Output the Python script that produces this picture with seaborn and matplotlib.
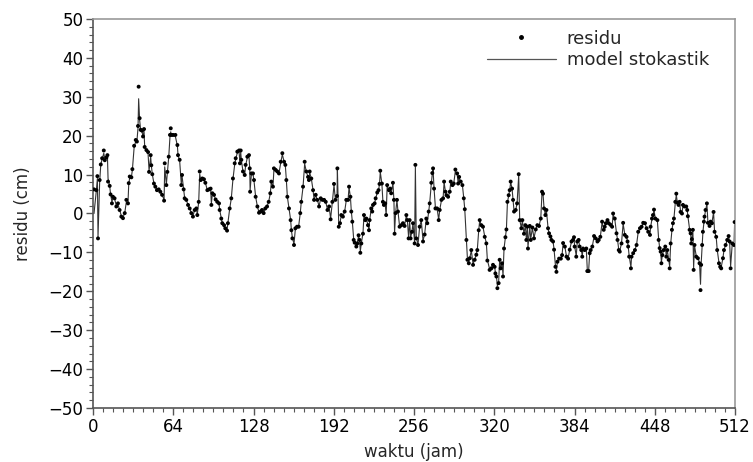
import matplotlib
matplotlib.use("Agg")
import matplotlib.pyplot as plt
from matplotlib.lines import Line2D
import seaborn as sns
import pandas as pd

# waktu (jam) at which residu was read
waktu = [
    0.8, 2.7, 3.5, 4.0, 5.3, 6.2, 7.3, 8.6, 9.4, 10.7, 11.5, 12.0, 13.3, 14.0, 15.1, 15.9, 17.2, 18.6, 19.9, 21.2,
    22.6, 23.9, 25.3, 26.6, 27.9, 28.5, 29.3, 30.6, 31.4, 32.8, 34.1, 35.0, 35.9, 36.4, 37.2, 38.0, 39.1, 39.9, 40.7, 41.2,
    42.6, 43.9, 44.7, 46.0, 46.5, 47.3, 48.6, 49.7, 51.0, 52.4, 53.7, 55.1, 56.7, 57.2, 58.5, 59.3, 60.4, 61.4, 62.0,
    62.5, 63.8, 65.7, 67.3, 67.8, 69.1, 70.4, 71.0, 72.3, 73.1, 74.4, 75.8, 77.1, 78.4, 79.7, 81.1, 82.4, 83.2, 84.3, 85.1,
    85.9, 87.2, 88.5, 89.6, 91.2, 92.5, 93.8, 94.4, 95.2, 96.5, 97.8, 99.1, 100.5, 101.0, 102.3, 103.1, 104.5, 105.5, 106.9, 107.6,
    109.0, 110.3, 111.6, 113.0, 113.8, 115.1, 116.5, 117.2, 117.8, 118.3, 119.6, 121.0, 121.7, 123.1, 124.4,
    125.0, 125.3, 126.3, 127.6, 128.4, 129.7, 131.1, 132.4, 133.7, 134.8, 136.1, 137.4, 138.8, 140.1, 141.4, 142.2, 143.5, 144.3, 145.7, 147.0,
    148.3, 149.7, 151.0, 152.4, 153.4, 154.2, 155.0, 156.3, 157.6, 158.2, 159.0, 160.3, 161.4, 162.7, 164.0, 165.3, 166.1, 167.5, 168.8, 170.1,
    171.5, 172.2, 172.8, 174.1, 175.5, 176.3, 177.6, 178.9, 180.3, 181.6, 183.0, 184.3, 185.6, 187.0, 188.3,
    189.5, 190.9, 192.2, 193.3, 194.6, 194.9, 196.0, 197.0, 198.0, 199.3, 200.7, 202.0, 203.4, 204.2, 205.3, 206.0, 206.8, 207.9, 208.7, 210.0,
    210.8, 211.8, 212.6, 213.2, 214.0, 215.3, 216.1, 217.2, 218.0, 219.3, 220.1, 220.6, 221.9, 222.7, 223.3, 224.6, 225.4, 226.7, 227.7, 228.5,
    229.1, 230.4, 231.2, 232.0, 233.0, 233.8, 234.6, 236.0, 237.0, 237.8, 239.2, 240.0, 240.5, 241.3, 242.4, 243.2, 244.5, 245.9, 247.2, 248.5,
    249.9, 250.7, 251.7,
    252.5, 253.3, 254.4, 255.2, 256.5, 257.1, 257.8, 259.2, 260.5, 261.8, 263.2, 264.5, 265.8, 266.6, 267.7, 268.5, 269.8, 270.6, 271.2, 272.0,
    273.1, 274.4, 275.7, 276.5, 277.9, 279.2, 280.0, 281.1, 281.9, 283.2, 284.5, 285.3, 286.7, 287.7, 289.0, 290.4, 291.2, 292.0, 293.3, 294.6,
    295.7, 296.5, 297.8, 298.6, 299.7, 300.5, 301.7, 303.1, 304.4, 305.7, 306.5, 307.6, 308.4, 309.7, 311.0, 312.4, 313.7, 314.5,
    316.3, 317.7, 319.0, 320.3, 320.9, 321.7, 322.5, 323.5, 324.3, 325.1, 326.2, 327.0, 327.8, 328.9, 329.7, 330.5, 331.5, 332.3, 333.1, 334.2,
    335.0, 335.8, 337.1, 338.2, 339.5, 340.3, 341.6, 342.4, 343.7, 344.8, 345.6, 346.4, 346.9, 348.3, 349.1, 350.4, 351.7, 353.1, 354.4, 355.7,
    357.1, 358.1, 358.9, 359.7, 360.8, 361.6, 362.9, 363.7, 364.8, 365.6, 366.9, 367.7, 368.8, 369.6, 370.4, 371.7, 373.1, 374.1, 374.9, 376.3,
    377.6, 378.9, 380.2, 381.6,
    382.8, 383.6, 384.1, 385.4, 386.2, 387.3, 388.1, 389.4, 390.2, 390.8, 392.1, 393.4, 394.2, 395.3, 396.1, 396.9, 398.2, 399.6, 400.9, 402.3,
    403.3, 404.6, 406.0, 407.3, 408.1, 408.9, 410.3, 411.3, 412.7, 414.0, 414.8, 416.1, 417.5, 418.3, 419.3, 420.1, 421.5, 422.8, 424.1, 425.5,
    426.3, 426.8, 427.6, 429.0, 429.5, 430.8, 432.2, 433.5, 434.8, 436.2, 437.5, 438.8, 440.2, 441.5, 442.8, 444.2,
    444.7, 445.8, 446.6, 447.4, 448.5, 450.1, 451.1, 451.9, 452.7, 453.3, 454.1, 455.1, 456.4, 457.2, 458.0, 459.1, 459.9, 460.7, 461.7, 462.5,
    463.3, 464.4, 465.2, 466.0, 467.0, 467.8, 468.6, 469.7, 470.5, 471.8, 473.1, 473.9, 474.4, 475.8, 476.6, 477.1, 477.6, 478.4, 479.0, 479.7,
    481.1, 482.4, 483.7, 484.5, 485.0, 485.8, 486.4, 487.2, 487.7, 488.5, 489.6, 490.4, 491.7, 492.5, 493.6, 494.9, 495.7, 497.0, 497.8, 499.2,
    500.2, 501.0, 502.4, 503.2, 504.5, 505.8, 506.9, 507.7, 508.5, 509.8, 511.2, 511.7,
]

# residu (cm) observed
residu = [
    6.2, 6.0, 9.6, -6.4, 8.6, 12.6, 14.2, 16.2, 13.7, 14.4, 15.0, 8.2, 7.1, 4.9, 2.6, 4.3, 3.9, 1.8, 2.6, 0.9,
    -0.8, -1.2, 0.1, 3.5, 2.6, 7.8, 9.5, 9.3, 11.4, 17.4, 18.9, 18.5, 22.5, 32.6, 24.5, 21.5, 21.3, 19.8, 21.7, 17.1,
    16.3, 15.8, 10.7, 15.0, 12.4, 10.1, 7.7, 6.9, 6.0, 6.2, 5.6, 4.8, 3.3, 12.9, 7.3, 10.7, 14.6, 20.2, 21.9,
    20.2, 20.2, 20.2, 17.6, 15.0, 13.8, 7.3, 9.9, 6.2, 3.9, 3.5, 2.2, 1.3, 0.1, -0.8, 0.9, 1.3, -0.4, 3.0, 10.8,
    8.6, 9.0, 8.8, 7.9, 6.0, 6.2, 6.4, 2.2, 5.2, 4.8, 3.6, 3.0, 2.6, 0.9, -1.3, -2.5, -3.0, -3.8, -4.4, -2.5,
    1.3, 3.9, 9.0, 12.9, 14.2, 15.9, 16.2, 12.9, 16.2, 13.8, 10.8, 9.9, 12.5, 14.6, 15.0,
    11.6, 5.6, 10.3, 10.3, 8.6, 4.3, 1.8, 0.2, 0.5, 0.9, 0.1, 1.3, 1.8, 3.0, 5.2, 8.2, 6.9, 11.6, 11.2, 10.8,
    10.3, 13.3, 15.5, 13.3, 12.5, 8.6, 4.3, 1.3, -1.7, -4.3, -6.4, -8.1, -3.8, -3.4, -3.4, 0.1, 3.0, 6.9, 13.3, 10.8,
    9.4, 8.6, 10.8, 9.0, 6.0, 3.5, 4.8, 3.5, 1.8, 3.9, 3.5, 3.5, 3.0, 0.9, 1.8,
    -1.5, 3.0, 7.6, 3.5, 4.5, 11.6, -3.4, -2.5, -0.4, -0.8, 0.5, 3.5, 3.5, 6.9, 4.3, 0.5, -2.1, -6.8, -7.5, -8.5,
    -7.7, -5.6, -6.8, -10.1, -7.7, -5.2, -0.4, -1.7, -1.3, -3.0, -4.3, -1.7, 1.3, 0.5, 2.2, 2.6, 3.9, 5.4, 6.0, 7.6,
    11.0, 7.7, 3.0, 2.2, 2.6, -0.4, 7.3, 6.0, 6.4, 5.2, 7.9, 3.5, -5.2, 0.1, 3.5, 0.5, -3.4, -3.0, -2.5, -3.2,
    -0.4, -1.7, -6.4,
    -1.7, -6.4, -4.7, -2.5, -7.7, 12.5, -6.4, -8.1, -3.4, -1.7, -7.2, -5.4, -1.3, -2.5, 0.5, 2.6, 7.9, 10.4, 11.6, 6.4,
    1.3, 1.3, -1.7, 0.9, 3.5, 3.9, 8.2, 5.6, 4.7, 4.3, 5.6, 8.2, 7.3, 7.7, 11.3, 10.3, 7.7, 9.4, 8.2, 7.3,
    3.9, 1.1, -6.8, -11.9, -12.8, -11.5, -9.4, -13.2, -11.9, -10.6, -9.4, -4.3, -1.7, -3.0, -3.4, -6.0, -7.7, -12.1,
    -14.5, -14.1, -13.2, -13.7, -15.4, -16.2, -19.2, -17.9, -11.9, -14.1, -12.8, -16.2, -9.0, -6.1, -4.1, 3.0, 4.7, 6.0, 8.2, 6.4,
    3.5, 0.5, 0.9, 2.6, 10.1, -1.7, -3.8, -1.7, -5.2, -3.0, -6.8, -3.4, -9.0, -3.2, -6.8, -3.6, -6.4, -4.1, -3.0, -3.2,
    -1.3, 5.6, 5.1, 1.3, -0.4, 0.9, -3.8, -5.1, -5.9, -6.8, -7.2, -9.3, -13.7, -15.0, -12.4, -11.6, -11.6, -10.7, -7.6, -8.5,
    -11.1, -11.6, -9.3, -7.2,
    -6.8, -6.1, -8.5, -11.1, -7.2, -6.8, -8.5, -9.4, -11.1, -9.0, -9.4, -9.0, -14.8, -14.8, -10.2, -9.4, -8.5, -5.8, -6.4, -7.2,
    -6.8, -6.0, -2.1, -4.2, -3.4, -2.5, -1.7, -2.5, -2.9, -3.4, 0.0, -1.3, -5.1, -6.8, -9.4, -9.8, -7.7, -2.4, -5.5, -6.0,
    -7.2, -8.5, -11.1, -14.1, -11.1, -10.2, -9.4, -8.1, -4.7, -3.8, -3.4, -2.4, -2.5, -3.8, -4.7, -5.5,
    -3.4, -1.3, -0.4, 1.0, -1.3, -1.7, -6.8, -8.9, -9.8, -12.8, -10.7, -9.4, -8.5, -11.1, -9.4, -11.9, -14.1, -7.7, -4.2, -2.5,
    -1.3, 3.0, 5.1, 2.8, 2.2, 3.0, 0.4, 0.0, 2.2, 1.8, 1.8, 0.9, -0.7, -4.2, -5.1, -7.7, -6.6, -4.2, -14.5, -8.1,
    -11.1, -11.5, -12.8, -19.7, -13.2, -8.1, -4.7, -2.1, -0.8, 0.9, 2.6, -2.4, -3.2, -2.1, -2.5, 0.4, -4.7, -6.0, -9.4, -12.8,
    -13.7, -14.1, -11.5, -9.4, -8.1, -6.8, -5.8, -7.2, -14.1, -7.7, -8.1, -2.2,
]

# model stokastik (cm) at the same times
model = [
    0.0, 6.0, 9.0, -6.0, 8.0, 12.6, 14.0, 15.5, 14.0, 14.4, 14.8, 9.0, 7.1, 5.0, 3.0, 4.0, 3.8, 2.0, 2.4, 1.0,
    -0.6, -1.0, 0.1, 3.0, 2.8, 7.5, 9.3, 9.3, 11.2, 17.0, 18.6, 18.5, 22.0, 29.5, 24.0, 21.5, 21.0, 19.8, 21.2, 17.3,
    16.3, 15.5, 11.0, 14.6, 12.4, 10.1, 7.7, 6.9, 6.0, 6.1, 5.6, 4.8, 3.5, 12.0, 7.5, 10.5, 14.5, 19.8, 21.0,
    20.0, 20.0, 19.8, 17.4, 15.0, 13.6, 7.6, 9.7, 6.2, 4.0, 3.5, 2.2, 1.3, 0.2, -0.6, 0.9, 1.2, -0.2, 3.0, 10.2,
    8.6, 8.9, 8.7, 7.9, 6.0, 6.2, 6.3, 2.6, 5.0, 4.8, 3.6, 3.0, 2.5, 1.0, -1.2, -2.4, -3.0, -3.7, -4.2, -2.4,
    1.2, 3.9, 8.8, 12.6, 14.0, 15.6, 15.8, 13.0, 15.8, 13.8, 10.8, 10.0, 12.3, 14.4, 14.8,
    11.5, 6.0, 10.0, 10.1, 8.4, 4.3, 1.8, 0.3, 0.5, 0.9, 0.2, 1.2, 1.8, 3.0, 5.2, 8.0, 6.9, 11.3, 11.0, 10.7,
    10.3, 13.0, 15.2, 13.3, 12.3, 8.6, 4.3, 1.3, -1.6, -4.2, -6.2, -7.8, -3.9, -3.4, -3.3, 0.1, 3.0, 6.8, 12.8, 10.8,
    9.4, 8.8, 10.5, 9.0, 6.0, 3.6, 4.7, 3.5, 1.9, 3.8, 3.5, 3.4, 3.0, 1.0, 1.7,
    -1.3, 3.0, 7.3, 3.6, 4.5, 11.3, -3.2, -2.4, -0.4, -0.7, 0.5, 3.4, 3.5, 6.7, 4.2, 0.6, -2.0, -6.6, -7.4, -8.3,
    -7.6, -5.7, -6.9, -9.7, -7.6, -5.1, -0.5, -1.6, -1.3, -3.0, -4.1, -1.8, 1.2, 0.6, 2.1, 2.6, 3.9, 5.3, 6.0, 7.5,
    10.7, 7.6, 3.1, 2.3, 2.5, -0.3, 7.0, 6.0, 6.3, 5.3, 7.7, 3.4, -5.0, 0.1, 3.4, 0.6, -3.3, -3.0, -2.5, -3.1,
    -0.5, -1.7, -6.2,
    -1.8, -6.2, -4.6, -2.5, -7.5, 12.0, -6.2, -7.9, -3.4, -1.8, -7.0, -5.3, -1.4, -2.4, 0.5, 2.6, 7.7, 10.2, 11.3, 6.4,
    1.4, 1.3, -1.6, 0.9, 3.4, 3.9, 8.0, 5.6, 4.7, 4.3, 5.5, 8.0, 7.3, 7.7, 11.0, 10.2, 7.8, 9.2, 8.2, 7.3,
    3.9, 1.0, -6.6, -11.6, -12.5, -11.4, -9.5, -13.0, -11.8, -10.5, -9.3, -4.4, -1.8, -3.0, -3.4, -5.9, -7.6, -11.9,
    -14.3, -14.0, -13.2, -13.6, -15.2, -16.0, -18.6, -17.6, -12.0, -14.0, -12.8, -15.8, -9.0, -6.1, -4.0, 2.8, 4.6, 6.0, 8.0, 6.4,
    3.5, 0.6, 0.9, 2.6, 9.8, -1.6, -3.7, -1.8, -5.1, -3.0, -6.6, -3.5, -8.7, -3.3, -6.6, -3.7, -6.3, -4.1, -3.0, -3.2,
    -1.3, 5.5, 5.0, 1.4, -0.4, 0.8, -3.7, -5.1, -5.9, -6.7, -7.2, -9.2, -13.4, -14.6, -12.4, -11.6, -11.5, -10.6, -7.7, -8.5,
    -11.0, -11.5, -9.3, -7.2,
    -6.8, -6.2, -8.4, -10.9, -7.3, -6.8, -8.5, -9.3, -10.9, -9.0, -9.3, -9.1, -14.4, -14.5, -10.3, -9.4, -8.5, -5.9, -6.4, -7.1,
    -6.8, -6.0, -2.3, -4.1, -3.4, -2.6, -1.8, -2.5, -2.9, -3.3, -0.2, -1.4, -5.0, -6.7, -9.3, -9.7, -7.6, -2.6, -5.4, -6.0,
    -7.2, -8.4, -10.9, -13.8, -11.1, -10.2, -9.4, -8.0, -4.8, -3.8, -3.4, -2.5, -2.5, -3.8, -4.7, -5.4,
    -3.5, -1.4, -0.4, 0.8, -1.3, -1.8, -6.6, -8.8, -9.8, -12.4, -10.6, -9.4, -8.5, -10.9, -9.4, -11.8, -13.6, -7.8, -4.3, -2.6,
    -1.3, 2.8, 4.8, 2.8, 2.2, 2.9, 0.5, 0.0, 2.1, 1.8, 1.8, 0.9, -0.6, -4.1, -5.1, -7.5, -6.5, -4.3, -14.0, -8.2,
    -11.0, -11.4, -12.6, -18.2, -13.0, -8.2, -4.8, -2.2, -0.8, 0.8, 2.4, -2.3, -3.1, -2.1, -2.4, 0.3, -4.6, -6.0, -9.3, -12.6,
    -13.5, -13.8, -11.4, -9.4, -8.1, -6.8, -5.9, -7.2, -13.6, -7.8, -8.1, -2.4,
]

x_ticks = [0, 64, 128, 192, 256, 320, 384, 448, 512]
y_ticks = [-50, -40, -30, -20, -10, 0, 10, 20, 30, 40, 50]

df = pd.DataFrame({"waktu": waktu, "residu": residu, "model": model})

sns.set_theme(style="ticks")
plt.rcParams["font.family"] = ["DejaVu Sans"]

fig = plt.figure(figsize=(7.53, 4.62), dpi=100)
ax = fig.add_axes([93 / 753, 1 - 408 / 462, (735 - 93) / 753, (408 - 19) / 462])

sns.lineplot(data=df, x="waktu", y="model", ax=ax, color="#333333", linewidth=0.8,
             estimator=None, sort=False, zorder=2)
sns.scatterplot(data=df, x="waktu", y="residu", ax=ax, color="black", s=8,
                edgecolor="none", linewidth=0, zorder=3)

ax.set_xlim(0, 512)
ax.set_ylim(-50, 50)
ax.set_xticks(x_ticks)
ax.set_yticks(y_ticks)
ax.set_xticks(range(0, 513, 8), minor=True)
ax.set_yticks(range(-50, 51, 2), minor=True)
ax.set_yticklabels([f"\u2212{abs(v)}" if v < 0 else str(v) for v in y_ticks])
ax.tick_params(axis="both", which="major", length=5, width=1, color="#555555",
               labelsize=12, labelcolor="black", direction="out", pad=2)
ax.tick_params(axis="both", which="minor", length=3, width=0.8, color="#555555",
               direction="out")
ax.set_xlabel("waktu (jam)", fontsize=12, labelpad=5)
ax.set_ylabel("residu (cm)", fontsize=12, labelpad=12)

for side in ["left", "bottom"]:
    ax.spines[side].set_color("#555555")
    ax.spines[side].set_linewidth(1.2)
for side in ["top", "right"]:
    ax.spines[side].set_visible(True)
    ax.spines[side].set_color("#999999")
    ax.spines[side].set_linewidth(1.2)

handles = [
    Line2D([], [], linestyle="none", marker="o", markersize=2.5, color="black"),
    Line2D([], [], color="#555555", linewidth=0.9),
]
ax.legend(handles, ["residu", "model stokastik"], loc="upper right", frameon=False,
          fontsize=13, handlelength=3.8, handletextpad=0.6, labelspacing=0.2,
          bbox_to_anchor=(0.979, 1.005), borderaxespad=0.3)

fig.savefig("out.png", dpi=100)
